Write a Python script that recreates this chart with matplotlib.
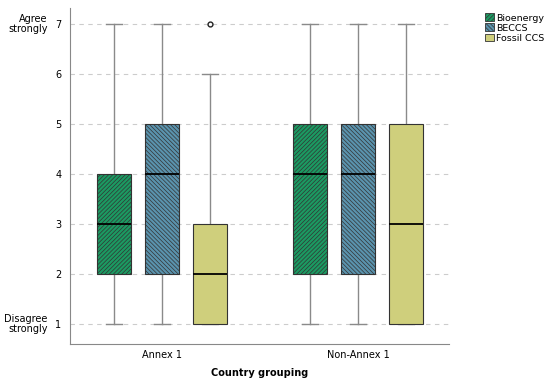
import matplotlib
matplotlib.use("Agg")
import matplotlib.pyplot as plt
from matplotlib.patches import Patch

groups = ["Annex 1", "Non-Annex 1"]
series = ["Bioenergy", "BECCS", "Fossil CCS"]
colors = ["#1b9a62", "#5a93ad", "#cfcf7c"]
hatches = ["////////", "\\\\\\\\\\\\\\\\", ""]

# (whislo, q1, med, q3, whishi, outliers) per group, per series
stats = {
    "Annex 1": [(1, 2, 3, 4, 7, []), (1, 2, 4, 5, 7, []), (1, 1, 2, 3, 6, [7])],
    "Non-Annex 1": [(1, 2, 4, 5, 7, []), (1, 2, 4, 5, 7, []), (1, 1, 3, 5, 7, [])],
}

plt.rcParams["font.family"] = ["DejaVu Sans"]
plt.rcParams["hatch.linewidth"] = 0.5

fig = plt.figure(figsize=(5.5, 3.82), dpi=100)
ax = fig.add_axes([0.127, 0.0995, 0.689, 0.88])

offset = 0.245
for gi, g in enumerate(groups):
    for si, s in enumerate(series):
        lo, q1, med, q3, hi, fl = stats[g][si]
        d = [dict(whislo=lo, q1=q1, med=med, q3=q3, whishi=hi, fliers=fl)]
        pos = gi + (si - 1) * offset
        b = ax.bxp(d, positions=[pos], widths=0.175, patch_artist=True,
                   capwidths=0.085,
                   boxprops=dict(facecolor=colors[si], edgecolor="#333333",
                                 linewidth=0.8, hatch=hatches[si]),
                   medianprops=dict(color="black", linewidth=1.3),
                   whiskerprops=dict(color="#8a8a8a", linewidth=1.0),
                   capprops=dict(color="#8a8a8a", linewidth=1.0),
                   flierprops=dict(marker="o", markersize=3.5, markerfacecolor="white",
                                   markeredgecolor="#222222", markeredgewidth=1.0))
        for box in b["boxes"]:
            box.set_zorder(3)
        for m in b["medians"]:
            m.set_zorder(4)

ax.set_xlim(-0.47, 1.464)
ax.set_ylim(0.6, 7.32)
ax.set_yticks(range(1, 8))
ax.set_yticklabels([str(v) for v in range(1, 8)], fontsize=7)
ax.set_xticks(range(len(groups)))
ax.set_xticklabels(groups, fontsize=7)
ax.tick_params(axis="y", length=0, pad=6)
ax.tick_params(axis="x", length=0, pad=4)
ax.yaxis.grid(True, linestyle=(0, (4, 4)), color="#cccccc", linewidth=0.8)
ax.set_axisbelow(True)
for sp in ["top", "right"]:
    ax.spines[sp].set_visible(False)
for sp in ["left", "bottom"]:
    ax.spines[sp].set_color("#888888")

ax.annotate("Agree\nstrongly", xy=(0, 7), xycoords=("axes fraction", "data"),
            xytext=(-16, 0), textcoords="offset points", ha="right", va="center",
            fontsize=7, linespacing=0.95)
ax.annotate("Disagree\nstrongly", xy=(0, 1), xycoords=("axes fraction", "data"),
            xytext=(-16, 0), textcoords="offset points", ha="right", va="center",
            fontsize=7, linespacing=0.95)

ax.set_xlabel("Country grouping", fontsize=7, fontweight="bold", labelpad=6)

handles = [Patch(facecolor=c, edgecolor="#333333", hatch=h, linewidth=0.6)
           for c, h in zip(colors, hatches)]
fig.legend(handles, series, loc="upper left", bbox_to_anchor=(0.882, 0.965),
           frameon=False, fontsize=6.8, handlelength=0.9, handleheight=0.9,
           handletextpad=0.3, labelspacing=0.1, borderaxespad=0, borderpad=0)

fig.savefig("out.png", dpi=100)
